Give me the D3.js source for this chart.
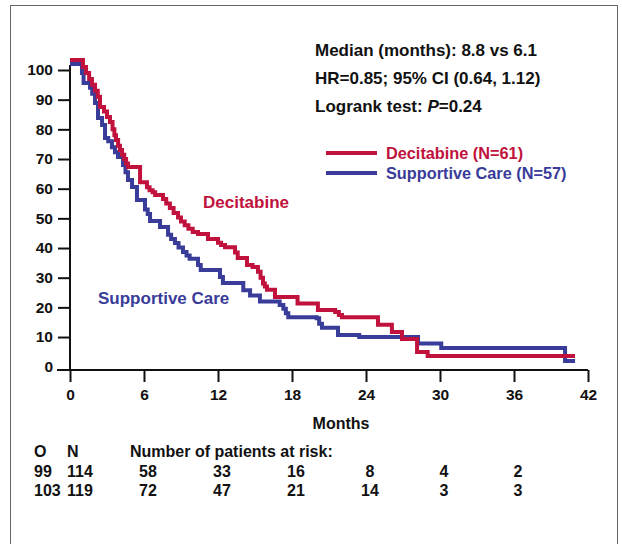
<!DOCTYPE html>
<html>
<head>
<meta charset="utf-8">
<script src="https://cdn.jsdelivr.net/npm/d3@7"></script>
<style>
  body { margin: 0; background: #fff; }
  text { font-family: "Liberation Sans", Arial, Helvetica, sans-serif; font-weight: bold; }
</style>
</head>
<body>
<svg id="km-svg"></svg>
<script>
// tick values
const monthTicks = [0, 6, 12, 18, 24, 30, 36, 42];
const pctTicks = [0, 10, 20, 30, 40, 50, 60, 70, 80, 90, 100];

// Decitabine curve (months, % surviving)
const decitabineT = [0, 1.05, 1.3, 1.55, 1.78, 2.03, 2.25, 2.43, 2.76, 3.0, 3.24, 3.45, 3.6, 3.73, 3.9, 4.05, 4.22, 4.4, 4.55, 4.7,
  5.68, 6.24, 6.45, 6.7, 6.9, 7.54, 7.8, 8.1, 8.4, 8.76, 9.0, 9.3, 9.6, 9.95, 10.38, 11.19, 12.0, 12.25, 12.57,
  13.38, 13.6, 14.35, 14.8, 15.24, 15.45, 15.65, 15.8, 15.97, 16.62, 18.45, 20.1, 21.5, 21.8, 22.05, 24.97,
  26.1, 26.92, 28.14, 29.0, 40.95];
const decitabineS = [103.4, 101, 99, 97, 95, 93, 91, 87.5, 86, 84.2, 82.5, 80, 78, 76.4, 74.5, 73, 71.4, 70, 68.5, 67.3,
  62.2, 60.5, 59.5, 58.8, 57.9, 56.5, 55, 53.5, 51.8, 50.3, 48.9, 47.7, 46.5, 45.4, 44.7, 43.0, 41.8, 41.0, 40.3,
  38.5, 36.6, 34.3, 33.6, 32, 30, 28, 27, 25.9, 23.5, 21.3, 19.1, 18.4, 17.4, 16.7, 14.1,
  11.7, 9.3, 4.95, 3.6, 3.6];

// Supportive care curve
const supportiveT = [0, 0.97, 1.1, 1.62, 1.8, 2.03, 2.27, 2.6, 2.84, 3.1, 3.4, 3.65, 3.89, 4.3, 4.5, 4.7, 5.03, 5.43,
  6.08, 6.3, 6.49, 7.3, 7.95, 8.2, 8.51, 8.8, 9.16, 9.45, 9.7, 10.38, 10.6, 12.16, 12.4, 14.05, 14.6, 15.4,
  17.0, 17.3, 17.5, 17.7, 20.0, 20.2, 20.43, 21.73, 23.45, 28.22, 30.1, 40.14, 40.95];
const supportiveS = [102, 99, 95.6, 94, 92, 88.9, 83.8, 81.5, 77.1, 76, 74, 72.3, 70.7, 68, 65.5, 62.9, 60.6, 56.2,
  53, 51.5, 49.1, 47.1, 44.5, 43, 41.7, 40.2, 38.7, 37.5, 36.4, 34.3, 32.6, 30.2, 28.2, 25.8, 24.0, 22.0,
  20.8, 19.5, 18, 16.7, 16.3, 14.5, 13.1, 10.7, 10.0, 7.8, 6.3, 1.9, 1.9];

// number at risk table
const riskTimes = [6, 12, 18, 24, 30, 36];
const observed = [99, 103];
const totalN = [114, 119];
const riskRow1 = [58, 33, 16, 8, 4, 2];
const riskRow2 = [72, 47, 21, 14, 3, 3];

const W = 622, H = 544;
const red = "#c0123c", blue = "#393c99";
const axisY = 370;

var svg = d3.select("#km-svg").attr("width", W).attr("height", H);

// frame
svg.append("rect")
  .attr("x", 10.5).attr("y", 5.5).attr("width", 607).attr("height", 560)
  .attr("fill", "none").attr("stroke", "#666").attr("stroke-width", 1);

var x = d3.scaleLinear().domain([0, 42]).range([70, 588]);
var y = d3.scaleLinear().domain([0, 100]).range([366.7, 70]);

// X axis
var gx = svg.append("g")
  .attr("transform", "translate(0," + axisY + ")")
  .call(d3.axisBottom(x).tickValues(monthTicks).tickSize(12).tickSizeOuter(0).tickPadding(7));
gx.select(".domain").attr("d", "M" + (x(0) - 13) + ",0H" + x(42));

// Y axis
var gy = svg.append("g")
  .attr("transform", "translate(" + x(0) + ",0)")
  .call(d3.axisLeft(y).tickValues(pctTicks).tickSize(12).tickSizeOuter(0).tickPadding(5));
gy.select(".domain").attr("d", "M0,65V" + axisY);
gy.selectAll(".tick").filter(function(d) { return d === 0; }).select("line").remove();

svg.selectAll(".domain, .tick line").attr("stroke", "#111").attr("stroke-width", 2);
svg.selectAll(".tick text").attr("fill", "#111").style("font-size", "15.5px")
  .style("font-family", "'Liberation Sans', Arial, sans-serif").style("font-weight", "bold");

// curves
var line = d3.line()
  .x(function(d) { return x(d[0]); })
  .y(function(d) { return y(d[1]); })
  .curve(d3.curveStepAfter);

svg.append("path")
  .datum(d3.zip(supportiveT, supportiveS))
  .attr("fill", "none").attr("stroke", blue).attr("stroke-width", 4)
  .attr("d", line);
svg.append("path")
  .datum(d3.zip(decitabineT, decitabineS))
  .attr("fill", "none").attr("stroke", red).attr("stroke-width", 4)
  .attr("d", line);

// curve labels
svg.append("text").attr("x", 203).attr("y", 208).attr("fill", red)
  .style("font-size", "17px").text("Decitabine");
svg.append("text").attr("x", 98).attr("y", 304).attr("fill", blue)
  .style("font-size", "17px").text("Supportive Care");

// stats
var stats = svg.append("g").style("font-size", "17px").attr("fill", "#111");
stats.append("text").attr("x", 315).attr("y", 56).text("Median (months): 8.8 vs 6.1");
stats.append("text").attr("x", 315).attr("y", 84).text("HR=0.85; 95% CI (0.64, 1.12)");
var lr = stats.append("text").attr("x", 315).attr("y", 112).text("Logrank test: ");
lr.append("tspan").style("font-style", "italic").text("P");
lr.append("tspan").text("=0.24");

// legend
var legend = [["Decitabine (N=61)", red, 153], ["Supportive Care (N=57)", blue, 173]];
legend.forEach(function(l) {
  svg.append("line").attr("x1", 326).attr("x2", 377).attr("y1", l[2]).attr("y2", l[2])
    .attr("stroke", l[1]).attr("stroke-width", 4);
  svg.append("text").attr("x", 386).attr("y", l[2] + 6).attr("fill", l[1])
    .style("font-size", "16.3px").text(l[0]);
});

// axis title
svg.append("text").attr("x", 341).attr("y", 429).attr("text-anchor", "middle")
  .attr("fill", "#111").style("font-size", "16px").text("Months");

// risk table
var risk = svg.append("g").style("font-size", "16px").attr("fill", "#111");
risk.append("text").attr("x", 34).attr("y", 457).text("O");
risk.append("text").attr("x", 67).attr("y", 457).text("N");
risk.append("text").attr("x", 130).attr("y", 457).text("Number of patients at risk:");

[riskRow1, riskRow2].forEach(function(row, i) {
  var yy = 477 + i * 19;
  risk.append("text").attr("x", 34).attr("y", yy).text(observed[i]);
  risk.append("text").attr("x", 67).attr("y", yy).text(totalN[i]);
  risk.selectAll(null).data(row).enter().append("text")
    .attr("x", function(d, j) { return x(riskTimes[j]) + 4; })
    .attr("y", yy).attr("text-anchor", "middle")
    .text(function(d) { return d; });
});
</script>
</body>
</html>
